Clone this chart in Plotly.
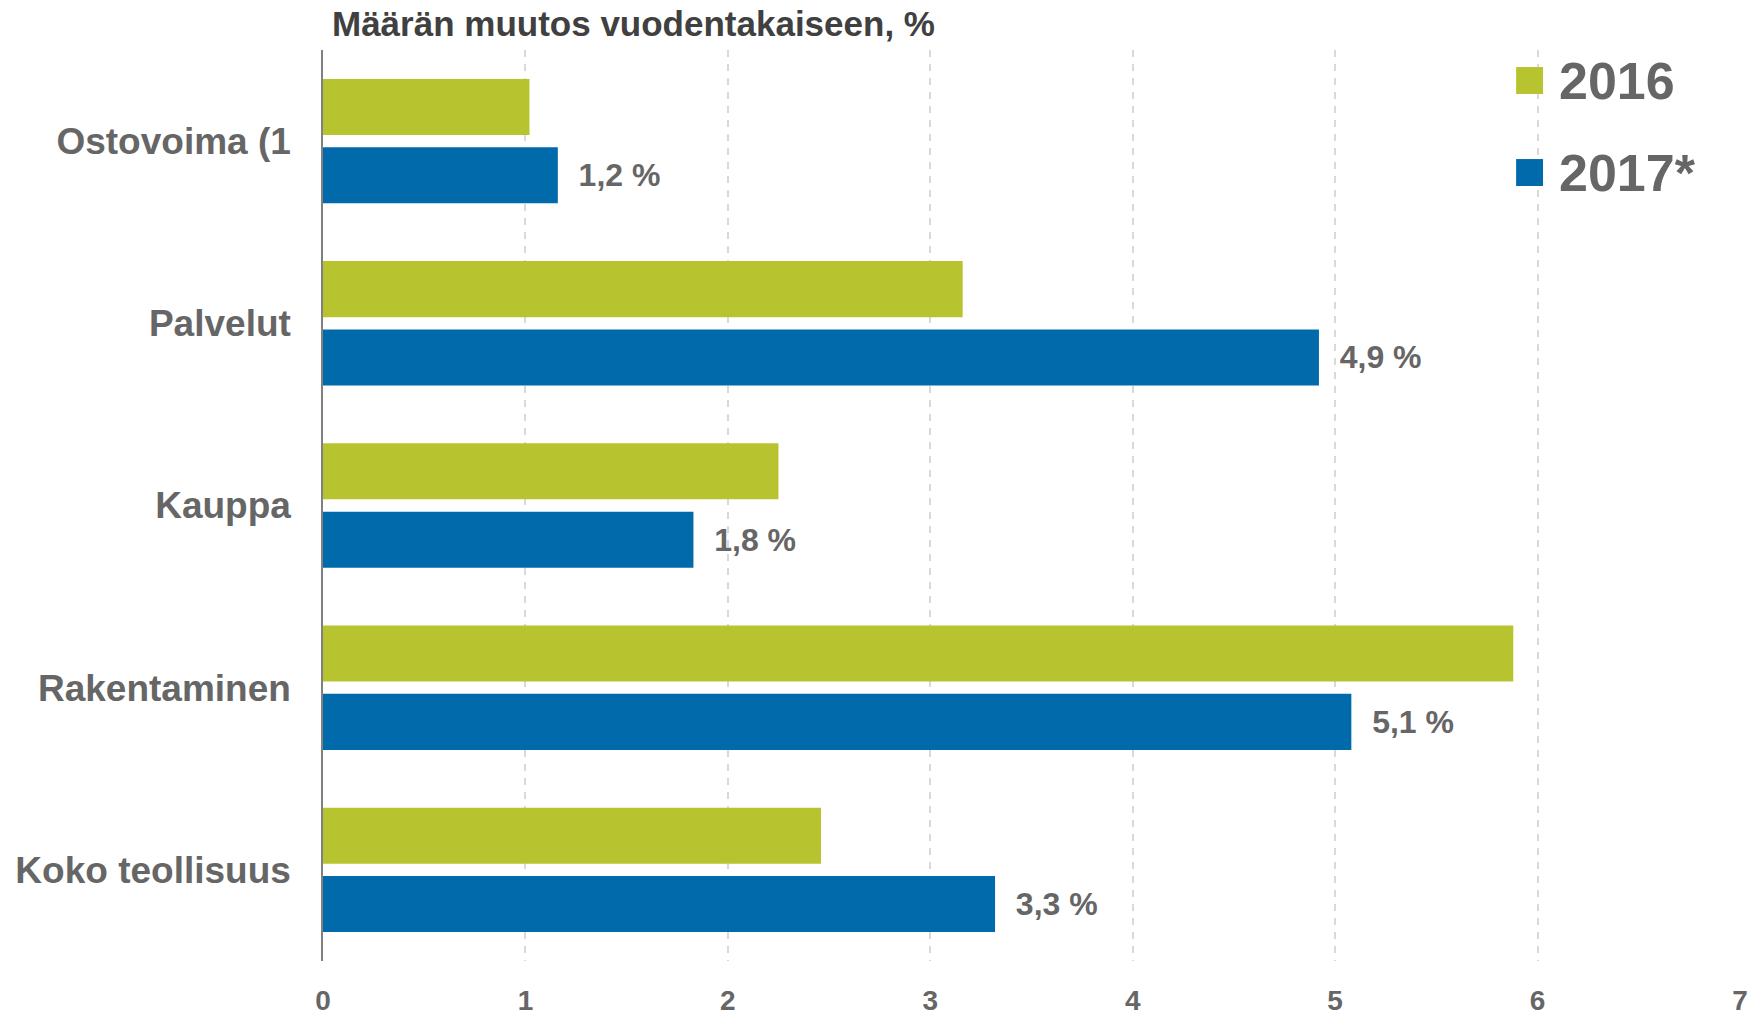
"""Horizontal grouped bar chart: volume change vs previous year."""

import plotly.graph_objects as go

categories = ["Ostovoima (1", "Palvelut", "Kauppa", "Rakentaminen", "Koko teollisuus"]
values_2016 = [1.02, 3.16, 2.25, 5.88, 2.46]
values_2017 = [1.16, 4.92, 1.83, 5.08, 3.32]
series_names = ["2016", "2017*"]
x_ticks = [0, 1, 2, 3, 4, 5, 6, 7]

GREEN = "#b8c42f"
BLUE = "#006aab"
TEXT = "#666666"
FONT = "Liberation Sans, Arial, sans-serif"

fig = go.Figure()
fig.add_trace(go.Bar(
    y=categories, x=values_2016, name=series_names[0], orientation="h",
    marker=dict(color=GREEN, line=dict(width=0)),
    showlegend=False,
))
fig.add_trace(go.Bar(
    y=categories, x=values_2017, name=series_names[1], orientation="h",
    marker=dict(color=BLUE, line=dict(width=0)),
    texttemplate="\u00a0\u00a0%{x:.1f} %", textposition="outside",
    textfont=dict(family=FONT, size=32, color=TEXT, weight="bold"),
    cliponaxis=False, showlegend=False,
))

# legend drawn by hand so the swatches can be as large as in the original
fig.add_shape(type="rect", xref="paper", yref="paper", x0=0.83, x1=0.98, y0=0.815, y1=1.0,
              fillcolor="white", line=dict(width=0), layer="between")
for i, (name, color) in enumerate(zip(series_names, [GREEN, BLUE])):
    yc = 0.9665 - i * 0.101
    fig.add_shape(type="rect", xref="paper", yref="paper", x0=0.842, x1=0.861,
                  y0=yc - 0.0148, y1=yc + 0.0148, fillcolor=color, line=dict(width=0))
    fig.add_annotation(text=name, xref="paper", yref="paper", x=0.871, y=yc,
                       xanchor="left", yanchor="middle", showarrow=False,
                       font=dict(family=FONT, size=52, color=TEXT, weight="bold"))

fig.add_annotation(text="Määrän muutos vuodentakaiseen, %", xref="paper", yref="paper",
                   x=0.005, y=1.0, yshift=48, xanchor="left", yanchor="top", showarrow=False,
                   font=dict(family=FONT, size=35, color="#404040", weight="bold"))

fig.update_layout(
    width=1756, height=1017,
    paper_bgcolor="white", plot_bgcolor="white",
    margin=dict(l=323, r=16, t=50, b=56),
    barmode="group", bargap=0.25, bargroupgap=0.18,
    separators=", ",
    font=dict(family=FONT, color=TEXT),
    xaxis=dict(
        range=[0, 7], tickvals=x_ticks, showgrid=True, automargin=False,
        gridcolor="#d9d9d9", gridwidth=1.5, griddash="7px,7px",
        zeroline=False, showline=False,
        tickfont=dict(family=FONT, size=28, color=TEXT, weight="bold"),
        ticklabelstandoff=20,
    ),
    yaxis=dict(
        autorange="reversed", showgrid=False, zeroline=False, automargin=False,
        showline=True, linecolor="#808080", linewidth=1.5,
        tickfont=dict(family=FONT, size=37, color=TEXT, weight="bold"),
        ticklabelstandoff=23,
    ),
)

# drop the default page margin so the figure fills the window exactly
fig.write_html("out.html", config={"displayModeBar": False},
               post_script="document.body.style.margin='0';")
